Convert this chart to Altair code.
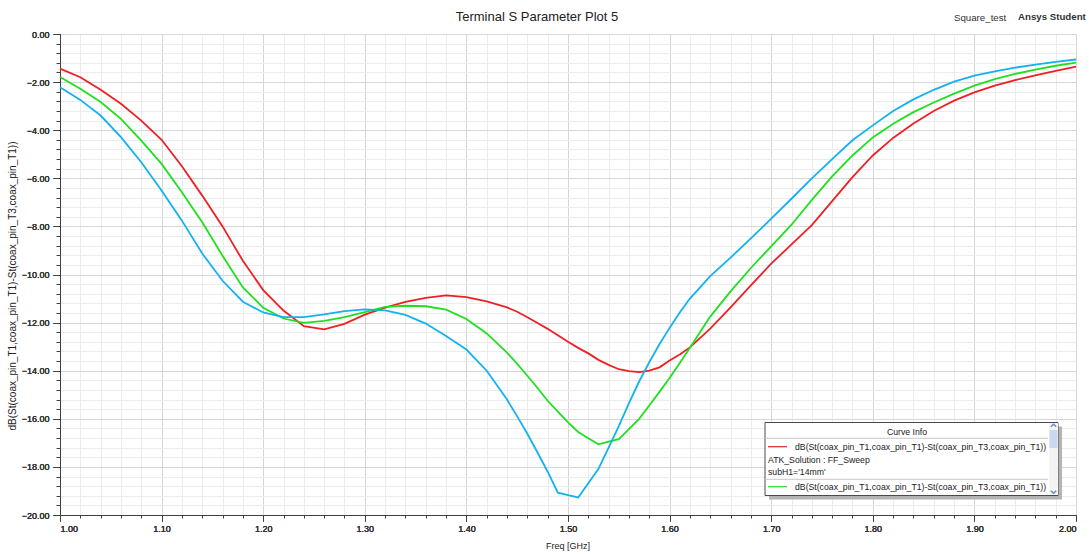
import altair as alt
import numpy as np
import pandas as pd

# ---- sweep data (GHz / dB) -------------------------------------------------
freq = [1.00, 1.02, 1.04, 1.06, 1.08, 1.10, 1.12, 1.14, 1.16, 1.18, 1.20, 1.22,
        1.24, 1.26, 1.28, 1.30, 1.32, 1.34, 1.36, 1.38, 1.40, 1.42, 1.44,
        1.45, 1.46, 1.47, 1.48, 1.49, 1.50, 1.51, 1.52, 1.53, 1.54, 1.55, 1.56,
        1.57, 1.58, 1.59, 1.60, 1.61, 1.62,
        1.64, 1.66, 1.68, 1.70, 1.72, 1.74, 1.76, 1.78, 1.80, 1.82, 1.84, 1.86,
        1.88, 1.90, 1.92, 1.94, 1.96, 1.98, 2.00]

red_db = [-1.44, -1.80, -2.32, -2.90, -3.60, -4.40, -5.50, -6.72, -8.00, -9.43, -10.65, -11.50,
          -12.15, -12.28, -12.05, -11.67, -11.38, -11.14, -10.97, -10.87, -10.94, -11.12, -11.37,
          -11.55, -11.78, -12.02, -12.26, -12.53, -12.80, -13.05, -13.28, -13.55, -13.76, -13.94, -14.02,
          -14.06, -14.00, -13.86, -13.58, -13.33, -13.03,
          -12.25, -11.37, -10.45, -9.55, -8.75, -7.95, -6.95, -5.95, -5.05, -4.32, -3.72, -3.20,
          -2.77, -2.43, -2.15, -1.92, -1.72, -1.53, -1.36]

green_db = [-1.79, -2.28, -2.83, -3.53, -4.43, -5.40, -6.58, -7.83, -9.22, -10.54, -11.38, -11.83,
            -12.01, -11.93, -11.77, -11.56, -11.35, -11.30, -11.32, -11.46, -11.85, -12.45, -13.25,
            -13.72, -14.21, -14.72, -15.25, -15.70, -16.15, -16.55, -16.81, -17.06, -16.95, -16.85, -16.43,
            -16.00, -15.45, -14.88, -14.30, -13.68, -13.05,
            -11.75, -10.70, -9.73, -8.83, -7.93, -6.90, -5.92, -5.05, -4.30, -3.73, -3.25, -2.85,
            -2.48, -2.15, -1.88, -1.66, -1.48, -1.32, -1.19]

blue_db = [-2.21, -2.74, -3.39, -4.29, -5.33, -6.51, -7.76, -9.13, -10.26, -11.13, -11.58, -11.77,
           -11.77, -11.66, -11.52, -11.45, -11.49, -11.68, -12.04, -12.56, -13.12, -14.00, -15.20,
           -15.90, -16.62, -17.40, -18.20, -19.07, -19.17, -19.27, -18.68, -18.08, -17.20, -16.30, -15.35,
           -14.45, -13.65, -12.90, -12.22, -11.58, -11.00,
           -10.07, -9.30, -8.50, -7.68, -6.85, -6.00, -5.20, -4.42, -3.80, -3.20, -2.72, -2.32,
           -1.98, -1.73, -1.55, -1.40, -1.27, -1.16, -1.06]

series_names = ["Curve 1", "Curve 2", "Curve 3"]
series_colors = ["#ee2024", "#1fe01f", "#12b2f0"]

title_text = "Terminal S Parameter Plot 5"
project_text = "Square_test"
brand_text = "Ansys Student"
y_title = "dB(St(coax_pin_T1,coax_pin_T1)-St(coax_pin_T3,coax_pin_T1))"
x_title = "Freq [GHz]"
legend_header = "Curve Info"
legend_expr = "dB(St(coax_pin_T1,coax_pin_T1)-St(coax_pin_T3,coax_pin_T1))"
legend_setup = "ATK_Solution : FF_Sweep"
legend_var = "subH1='14mm'"

FONT = "Liberation Sans"
W, H = 1016, 481

df = pd.concat([
    pd.DataFrame({"freq": freq, "db": vals, "curve": name})
    for name, vals in zip(series_names, [red_db, green_db, blue_db])
], ignore_index=True)

xs = alt.Scale(domain=[1.0, 2.0], nice=False, zero=False)
ys = alt.Scale(domain=[-20.0, 0.0], nice=False, zero=False)

x_major = [round(v, 2) for v in np.arange(1.0, 2.0001, 0.1)]
x_minor = [round(v, 2) for v in np.arange(1.0, 2.0001, 0.02)]
y_major = [round(v, 1) for v in np.arange(-20.0, 0.0001, 2.0)]
y_minor = [round(v, 1) for v in np.arange(-20.0, 0.0001, 0.4)]

# faint minor grid + short ticks
minor = alt.Chart(df).mark_line(opacity=0).encode(
    x=alt.X("freq:Q", scale=xs, axis=alt.Axis(
        orient="bottom", values=x_minor, labels=False, title=None, domain=False,
        grid=True, gridColor="#ececec", tickSize=3, tickColor="#404040")),
    y=alt.Y("db:Q", scale=ys, axis=alt.Axis(
        orient="left", values=y_minor, labels=False, title=None, domain=False,
        grid=True, gridColor="#ececec", tickSize=4, tickColor="#404040")),
)

# major grid, labelled ticks, and the curves
def curve_layer(name):
    return alt.Chart(df).transform_filter(alt.datum.curve == name).mark_line(
        strokeWidth=1.8, interpolate="linear"
    ).encode(
        x=alt.X("freq:Q", scale=xs, axis=alt.Axis(
            orient="bottom", values=x_major, format=".2f", title=None,
            grid=True, gridColor="#d6d6d6", tickSize=6, tickColor="#404040",
            domainColor="#404040", labelFont=FONT, labelFontSize=9,
            labelColor="#333333", labelPadding=3)),
        y=alt.Y("db:Q", scale=ys, axis=alt.Axis(
            orient="left", values=y_major, format=".2f", title=None,
            grid=True, gridColor="#d6d6d6", tickSize=7, tickColor="#404040",
            domainColor="#404040", labelFont=FONT, labelFontSize=9,
            labelColor="#333333", labelPadding=4)),
        color=alt.Color("curve:N", scale=alt.Scale(domain=series_names, range=series_colors),
                        legend=None),
    )

one = pd.DataFrame({"k": [0]})


def label(text, x, y, size=9, weight="normal", align="left", angle=0, color="#222222"):
    return alt.Chart(one).mark_text(
        text=text, font=FONT, fontSize=size, fontWeight=weight, align=align,
        baseline="middle", angle=angle, color=color
    ).encode(x=alt.value(x), y=alt.value(y))


def box(x1, x2, y1, y2, fill, stroke=None):
    kw = {"fill": fill}
    if stroke:
        kw.update(stroke=stroke, strokeWidth=1)
    return alt.Chart(one).mark_rect(**kw).encode(
        x=alt.value(x1), x2=alt.value(x2), y=alt.value(y1), y2=alt.value(y2))


def hline(x1, x2, y, color, width=1.0):
    return alt.Chart(one).mark_rule(color=color, strokeWidth=width).encode(
        x=alt.value(x1), x2=alt.value(x2), y=alt.value(y))


def chevron(x, y, path):
    return alt.Chart(one).mark_point(
        shape=path, filled=False, stroke="#2a5fc0", strokeWidth=1.4, size=30
    ).encode(x=alt.value(x), y=alt.value(y))


texts = [
    label(title_text, 477, -17, size=13, align="center"),
    label(project_text, 894, -16, size=9.7, align="left", color="#333333"),
    label(brand_text, 958, -17, size=9.7, weight="bold", align="left", color="#333333"),
    label(y_title, -47, 252, size=10, align="center", angle=270, color="#222222"),
    label(x_title, 508, 512, size=9, align="center", color="#222222"),
]

legend_parts = [
    box(709, 1002, 392.5, 465.5, "#b4b4b4"),
    box(705, 998, 388.5, 461.5, "#ffffff", stroke="#4a4a4a"),
    box(989, 998, 389, 461, "#f4f4f4"),
    box(989.5, 997.5, 396, 414, "#c9d8ee"),
    hline(705, 988, 404.3, "#c8c8c8"),
    hline(705, 988, 445.3, "#c8c8c8"),
    hline(708, 727, 412.7, series_colors[0], 1.2),
    hline(708, 727, 452.7, series_colors[1], 1.2),
    label(legend_header, 847, 397.5, size=8.7, align="center"),
    label(legend_expr, 735, 412.7, size=8.7),
    label(legend_setup, 708, 426, size=8.7),
    label(legend_var, 708, 438.3, size=8.7),
    label(legend_expr, 735, 452.7, size=8.7),
    chevron(993.5, 391.5, "M-1,0.5L0,-0.5L1,0.5"),
    chevron(993.5, 458, "M-1,-0.5L0,0.5L1,-0.5"),
]

chart = alt.layer(
    minor,
    curve_layer(series_names[0]),
    curve_layer(series_names[1]),
    curve_layer(series_names[2]),
    *texts,
    *legend_parts,
).resolve_axis(
    x="independent", y="independent"
).properties(
    width=W, height=H,
    autosize=alt.AutoSizeParams(type="none"),
    padding={"left": 60, "top": 34, "right": 13, "bottom": 39},
    background="#ffffff",
).configure_view(
    stroke="#404040", strokeWidth=1
)

chart.save("out.html", embed_options={"renderer": "svg", "actions": False})
